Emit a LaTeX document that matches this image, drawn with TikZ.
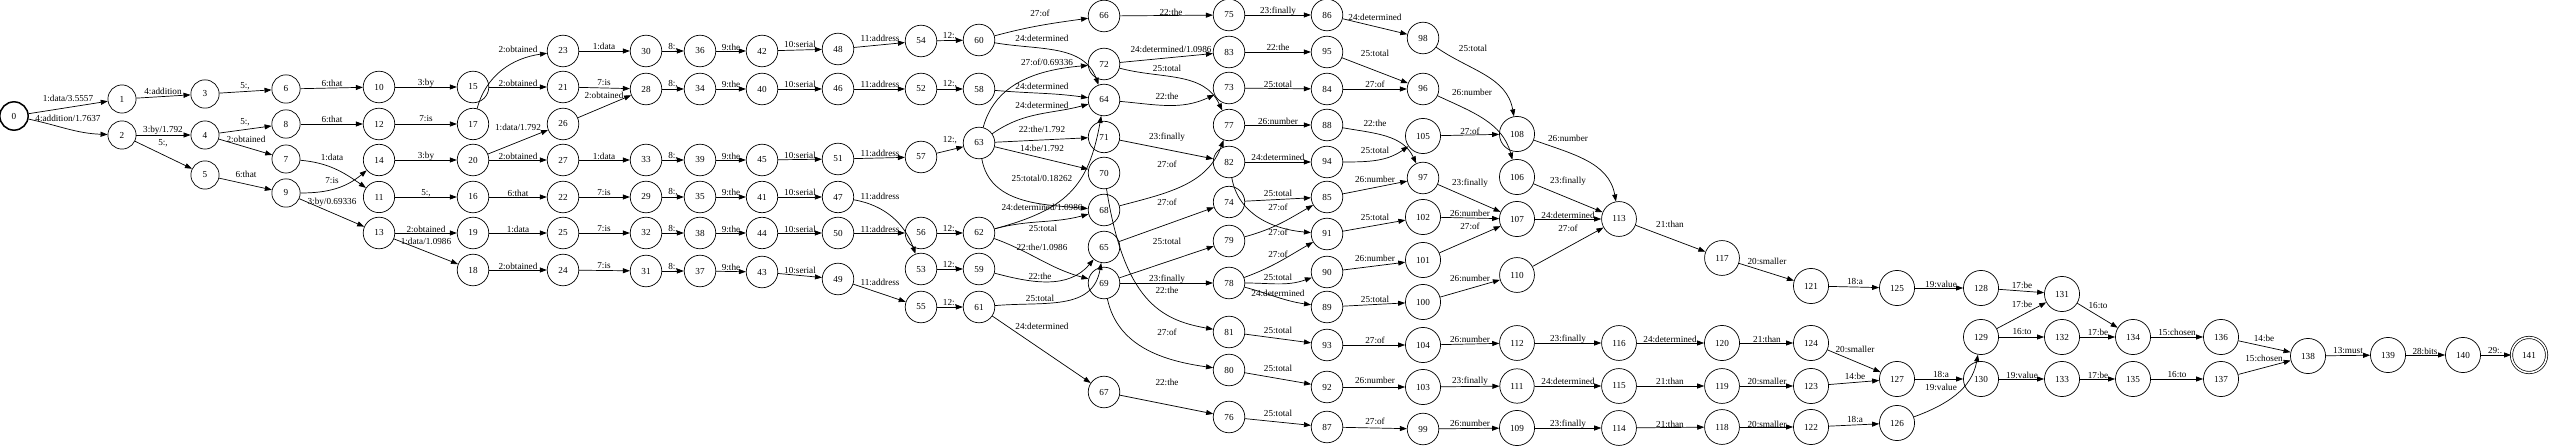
\documentclass[tikz,border=0pt]{standalone}
\usepackage{fontspec}
\setmainfont{Liberation Serif}
\usetikzlibrary{arrows.meta}
\newcommand{\fe}[5][--]{\draw[arr] (#2) #1 (#3) node[lbl] at (#4) {#5};}
\begin{document}
\begin{tikzpicture}[x=1pt,y=-1pt,
  st/.style={circle,draw,line width=0.7pt,minimum size=24pt,inner sep=7.3pt,font=\fontsize{9.2}{10}\selectfont},
  init/.style={st,line width=1.5pt},
  fin/.style={st,double,double distance=1.6pt},
  arr/.style={-{Triangle[length=7pt,width=5pt]},line width=0.7pt},
  lbl/.style={font=\fontsize{9.2}{10}\selectfont,inner sep=0pt}]
\useasboundingbox (0,0) rectangle (2550,446);
% nodes
\node[init] (n0) at (14,116) {0};
\node[st] (n1) at (122,99) {1};
\node[st] (n2) at (122,135) {2};
\node[st] (n3) at (205,94) {3};
\node[st] (n4) at (205,135) {4};
\node[st] (n5) at (205,175) {5};
\node[st] (n6) at (286,89) {6};
\node[st] (n8) at (286,124) {8};
\node[st] (n7) at (286,159) {7};
\node[st] (n9) at (286,193) {9};
\node[st] (n10) at (379,87) {10};
\node[st] (n12) at (379,124) {12};
\node[st] (n14) at (379,160) {14};
\node[st] (n11) at (379,197) {11};
\node[st] (n13) at (379,233) {13};
\node[st] (n15) at (473,87) {15};
\node[st] (n17) at (473,124) {17};
\node[st] (n20) at (473,160) {20};
\node[st] (n16) at (473,197) {16};
\node[st] (n19) at (473,233) {19};
\node[st] (n18) at (473,270) {18};
\node[st] (n23) at (563,51) {23};
\node[st] (n21) at (563,87) {21};
\node[st] (n26) at (563,124) {26};
\node[st] (n27) at (563,160) {27};
\node[st] (n22) at (563,197) {22};
\node[st] (n25) at (563,233) {25};
\node[st] (n24) at (563,270) {24};
\node[st] (n30) at (646,51) {30};
\node[st] (n28) at (646,89) {28};
\node[st] (n33) at (646,160) {33};
\node[st] (n29) at (646,197) {29};
\node[st] (n32) at (646,233) {32};
\node[st] (n31) at (646,271) {31};
\node[st] (n36) at (700,51) {36};
\node[st] (n34) at (700,89) {34};
\node[st] (n39) at (700,160) {39};
\node[st] (n35) at (700,197) {35};
\node[st] (n38) at (700,233) {38};
\node[st] (n37) at (700,271) {37};
\node[st] (n42) at (762,51) {42};
\node[st] (n40) at (762,89) {40};
\node[st] (n45) at (762,160) {45};
\node[st] (n41) at (762,197) {41};
\node[st] (n44) at (762,233) {44};
\node[st] (n43) at (762,272) {43};
\node[st] (n48) at (838,49) {48};
\node[st] (n46) at (838,89) {46};
\node[st] (n51) at (838,159) {51};
\node[st] (n47) at (838,197) {47};
\node[st] (n50) at (838,233) {50};
\node[st] (n49) at (838,279) {49};
\node[st] (n54) at (921,41) {54};
\node[st] (n52) at (921,89) {52};
\node[st] (n57) at (921,157) {57};
\node[st] (n56) at (921,233) {56};
\node[st] (n53) at (921,269) {53};
\node[st] (n55) at (921,307) {55};
\node[st] (n60) at (979,40) {60};
\node[st] (n58) at (979,89) {58};
\node[st] (n63) at (979,143) {63};
\node[st] (n62) at (979,233) {62};
\node[st] (n59) at (979,269) {59};
\node[st] (n61) at (979,307) {61};
\node[st] (n66) at (1104,16) {66};
\node[st] (n72) at (1104,64) {72};
\node[st] (n64) at (1104,100) {64};
\node[st] (n71) at (1104,137) {71};
\node[st] (n70) at (1104,173) {70};
\node[st] (n68) at (1104,210) {68};
\node[st] (n65) at (1104,247) {65};
\node[st] (n69) at (1104,283) {69};
\node[st] (n67) at (1104,392) {67};
\node[st] (n75) at (1229,15) {75};
\node[st] (n83) at (1229,52) {83};
\node[st] (n73) at (1229,88) {73};
\node[st] (n77) at (1229,125) {77};
\node[st] (n82) at (1229,162) {82};
\node[st] (n74) at (1229,202) {74};
\node[st] (n79) at (1229,241) {79};
\node[st] (n78) at (1229,283) {78};
\node[st] (n81) at (1229,332) {81};
\node[st] (n80) at (1229,370) {80};
\node[st] (n76) at (1229,417) {76};
\node[st] (n86) at (1327,15) {86};
\node[st] (n95) at (1327,52) {95};
\node[st] (n84) at (1327,89) {84};
\node[st] (n88) at (1327,125) {88};
\node[st] (n94) at (1327,162) {94};
\node[st] (n85) at (1327,197) {85};
\node[st] (n91) at (1327,234) {91};
\node[st] (n90) at (1327,272) {90};
\node[st] (n89) at (1327,307) {89};
\node[st] (n93) at (1327,345) {93};
\node[st] (n92) at (1327,387) {92};
\node[st] (n87) at (1327,427) {87};
\node[st] (n98) at (1423,38) {98};
\node[st] (n96) at (1423,89) {96};
\node[st] (n105) at (1423,136) {105};
\node[st] (n97) at (1423,178) {97};
\node[st] (n102) at (1423,217) {102};
\node[st] (n101) at (1423,260) {101};
\node[st] (n100) at (1423,302) {100};
\node[st] (n104) at (1423,345) {104};
\node[st] (n103) at (1423,387) {103};
\node[st] (n99) at (1423,429) {99};
\node[st] (n108) at (1517,134) {108};
\node[st] (n106) at (1517,177) {106};
\node[st] (n107) at (1517,219) {107};
\node[st] (n110) at (1517,275) {110};
\node[st] (n112) at (1517,343) {112};
\node[st] (n111) at (1517,386) {111};
\node[st] (n109) at (1517,428) {109};
\node[st] (n113) at (1619,219) {113};
\node[st] (n116) at (1619,343) {116};
\node[st] (n115) at (1619,386) {115};
\node[st] (n114) at (1619,428) {114};
\node[st] (n117) at (1722,258) {117};
\node[st] (n120) at (1722,343) {120};
\node[st] (n119) at (1722,386) {119};
\node[st] (n118) at (1722,427) {118};
\node[st] (n121) at (1811,286) {121};
\node[st] (n124) at (1811,343) {124};
\node[st] (n123) at (1811,386) {123};
\node[st] (n122) at (1811,427) {122};
\node[st] (n125) at (1897,288) {125};
\node[st] (n127) at (1897,379) {127};
\node[st] (n126) at (1897,423) {126};
\node[st] (n128) at (1981,288) {128};
\node[st] (n129) at (1981,337) {129};
\node[st] (n130) at (1981,379) {130};
\node[st] (n131) at (2062,294) {131};
\node[st] (n132) at (2062,337) {132};
\node[st] (n133) at (2062,379) {133};
\node[st] (n134) at (2133,337) {134};
\node[st] (n135) at (2133,379) {135};
\node[st] (n136) at (2221,337) {136};
\node[st] (n137) at (2221,379) {137};
\node[st] (n138) at (2308,356) {138};
\node[st] (n139) at (2388,355) {139};
\node[st] (n140) at (2463,355) {140};
\node[fin] (n141) at (2529,355) {141};
% edges
\fe{n0}{n1}{68,98}{1:data/3.5557}
\fe[{to[out=-12,in=178]}]{n0}{n2}{68,118}{4:addition/1.7637}
\fe{n1}{n3}{163,91}{4:addition}
\fe{n2}{n4}{163,130}{3:by/1.792}
\fe{n2}{n5}{163,143}{5:,}
\fe{n3}{n6}{245,86}{5:,}
\fe{n4}{n8}{245,122}{5:,}
\fe{n4}{n7}{246,139}{2:obtained}
\fe{n5}{n9}{246,174}{6:that}
\fe{n6}{n10}{332,83}{6:that}
\fe{n8}{n12}{332,119}{6:that}
\fe[{to[out=-5,in=145]}]{n7}{n11}{332,157}{1:data}
\fe[{to[out=0,in=-140]}]{n9}{n14}{332,181}{7:is}
\fe{n9}{n13}{332,202}{3:by/0.69336}
\fe{n10}{n15}{426,83}{3:by}
\fe{n12}{n17}{426,119}{7:is}
\fe{n14}{n20}{426,156}{3:by}
\fe{n11}{n16}{426,193}{5:,}
\fe{n13}{n19}{426,229}{2:obtained}
\fe{n13}{n18}{426,241}{1:data/1.0986}
\fe[{to[out=75,in=188]}]{n17}{n23}{518,49}{2:obtained}
\fe{n15}{n21}{518,83}{2:obtained}
\fe{n20}{n26}{518,127}{1:data/1.792}
\fe{n20}{n27}{518,156}{2:obtained}
\fe{n16}{n22}{518,193}{6:that}
\fe{n19}{n25}{518,229}{1:data}
\fe{n18}{n24}{518,266}{2:obtained}
\fe{n23}{n30}{604,46}{1:data}
\fe{n21}{n28}{604,83}{7:is}
\fe{n26}{n28}{604,95}{2:obtained}
\fe{n27}{n33}{604,156}{1:data}
\fe{n22}{n29}{604,193}{7:is}
\fe{n25}{n32}{604,229}{7:is}
\fe{n24}{n31}{604,266}{7:is}
\fe{n30}{n36}{673,47}{8:,}
\fe{n28}{n34}{673,84}{8:,}
\fe{n33}{n39}{673,156}{8:,}
\fe{n29}{n35}{673,192}{8:,}
\fe{n32}{n38}{673,229}{8:,}
\fe{n31}{n37}{673,267}{8:,}
\fe{n36}{n42}{731,47}{9:the}
\fe{n34}{n40}{731,84}{9:the}
\fe{n39}{n45}{731,156}{9:the}
\fe{n35}{n41}{731,192}{9:the}
\fe{n38}{n44}{731,229}{9:the}
\fe{n37}{n43}{731,267}{9:the}
\fe{n42}{n48}{800,44}{10:serial}
\fe{n40}{n46}{800,84}{10:serial}
\fe{n45}{n51}{800,155}{10:serial}
\fe{n41}{n47}{800,192}{10:serial}
\fe{n44}{n50}{800,229}{10:serial}
\fe{n43}{n49}{800,270}{10:serial}
\fe{n48}{n54}{880,38}{11:address}
\fe{n46}{n52}{880,84}{11:address}
\fe{n51}{n57}{880,153}{11:address}
\fe[{to[out=-10,in=110]}]{n47}{n53}{880,196}{11:address}
\fe{n50}{n56}{880,229}{11:address}
\fe{n49}{n55}{880,282}{11:address}
\fe{n54}{n60}{950,36}{12:,}
\fe{n52}{n58}{950,84}{12:,}
\fe{n57}{n63}{950,140}{12:,}
\fe{n56}{n62}{950,229}{12:,}
\fe{n53}{n59}{950,265}{12:,}
\fe{n55}{n61}{950,303}{12:,}
\fe[{to[out=15,in=188]}]{n60}{n66}{1040,13}{27:of}
\fe[{to[out=-10,in=110]}]{n60}{n64}{1042,38}{24:determined}
\fe[{to[out=75,in=185]}]{n63}{n72}{1047,62}{27:of/0.69336}
\fe[{to[out=-5,in=172]}]{n58}{n64}{1042,86}{24:determined}
\fe[{to[out=35,in=195]}]{n63}{n64}{1042,105}{24:determined}
\fe{n63}{n71}{1042,129}{22:the/1.792}
\fe{n63}{n70}{1042,148}{14:be/1.792}
\fe[{to[out=-80,in=175]}]{n63}{n68}{1042,178}{25:total/0.18262}
\fe[{to[out=15,in=-100,looseness=1.2]}]{n62}{n64}{1042,207}{24:determined/1.0986}
\fe[{to[out=15,in=195]}]{n62}{n68}{1043,228}{25:total}
\fe[{to[out=-20,in=165]}]{n62}{n69}{1042,247}{22:the/1.0986}
\fe[{to[out=-15,in=-130]}]{n59}{n65}{1040,276}{22:the}
\fe[{to[out=5,in=-100,looseness=1.1]}]{n61}{n65}{1040,298}{25:total}
\fe{n61}{n67}{1042,326}{24:determined}
\fe{n66}{n75}{1171,12}{22:the}
\fe{n72}{n83}{1171,49}{24:determined/1.0986}
\fe[{to[out=-15,in=115]}]{n72}{n77}{1167,68}{25:total}
\fe[{to[out=-5,in=-155]}]{n64}{n73}{1167,96}{22:the}
\fe{n71}{n82}{1167,137}{23:finally}
\fe[{to[out=15,in=-110]}]{n68}{n77}{1167,164}{27:of}
\fe{n65}{n74}{1167,202}{27:of}
\fe{n69}{n79}{1167,241}{25:total}
\fe{n69}{n78}{1167,279}{23:finally}
\fe[{.. controls (1124,300) and (1160,320) ..}]{n70}{n81}{1167,290}{22:the}
\fe[{to[out=-78,in=172]}]{n69}{n80}{1167,332}{27:of}
\fe{n67}{n76}{1167,382}{22:the}
\fe{n75}{n86}{1278,11}{23:finally}
\fe{n83}{n95}{1278,47}{22:the}
\fe{n73}{n84}{1278,84}{25:total}
\fe{n77}{n88}{1278,121}{26:number}
\fe{n82}{n94}{1278,157}{24:determined}
\fe{n74}{n85}{1278,193}{25:total}
\fe[{to[out=15,in=-150]}]{n79}{n85}{1278,207}{27:of}
\fe[{to[out=-80,in=175]}]{n82}{n91}{1278,232}{27:of}
\fe[{to[out=20,in=-150]}]{n78}{n91}{1278,254}{27:of}
\fe[{to[out=0,in=-160]}]{n78}{n90}{1278,277}{25:total}
\fe[{to[out=-15,in=172]}]{n78}{n89}{1278,293}{24:determined}
\fe{n81}{n93}{1278,330}{25:total}
\fe{n80}{n92}{1278,368}{25:total}
\fe{n76}{n87}{1278,413}{25:total}
\fe{n86}{n98}{1375,17}{24:determined}
\fe{n95}{n96}{1375,53}{25:total}
\fe{n84}{n96}{1375,84}{27:of}
\fe[{to[out=-10,in=115]}]{n88}{n97}{1375,123}{22:the}
\fe[{to[out=0,in=-145]}]{n94}{n105}{1375,150}{25:total}
\fe{n85}{n97}{1375,179}{26:number}
\fe{n91}{n102}{1375,217}{25:total}
\fe{n90}{n101}{1375,258}{26:number}
\fe{n89}{n100}{1375,299}{25:total}
\fe{n93}{n104}{1375,340}{27:of}
\fe{n92}{n103}{1375,380}{26:number}
\fe{n87}{n99}{1375,421}{27:of}
\fe[{to[out=-35,in=100]}]{n98}{n108}{1473,48}{25:total}
\fe[{to[out=-25,in=105]}]{n96}{n106}{1472,92}{26:number}
\fe{n105}{n108}{1470,131}{27:of}
\fe{n97}{n107}{1470,183}{23:finally}
\fe{n102}{n107}{1470,213}{26:number}
\fe{n101}{n107}{1470,226}{27:of}
\fe{n100}{n110}{1470,278}{26:number}
\fe{n104}{n112}{1470,339}{26:number}
\fe{n103}{n111}{1470,381}{23:finally}
\fe{n99}{n109}{1470,423}{26:number}
\fe[{to[out=-20,in=100]}]{n108}{n113}{1568,138}{26:number}
\fe{n106}{n113}{1568,181}{23:finally}
\fe{n107}{n113}{1568,215}{24:determined}
\fe{n110}{n113}{1568,228}{27:of}
\fe{n113}{n117}{1670,224}{21:than}
\fe{n112}{n116}{1568,339}{23:finally}
\fe{n116}{n120}{1670,339}{24:determined}
\fe{n111}{n115}{1568,381}{24:determined}
\fe{n115}{n119}{1670,381}{21:than}
\fe{n109}{n114}{1568,424}{23:finally}
\fe{n114}{n118}{1670,424}{21:than}
\fe{n117}{n121}{1767,261}{20:smaller}
\fe{n121}{n125}{1855,282}{18:a}
\fe{n120}{n124}{1767,339}{21:than}
\fe{n124}{n127}{1855,349}{20:smaller}
\fe{n119}{n123}{1767,381}{20:smaller}
\fe{n123}{n127}{1855,376}{14:be}
\fe{n118}{n122}{1767,424}{20:smaller}
\fe{n122}{n126}{1855,420}{18:a}
\fe{n125}{n128}{1941,284}{19:value}
\fe{n128}{n131}{2022,285}{17:be}
\fe{n129}{n131}{2022,304}{17:be}
\fe{n129}{n132}{2022,332}{16:to}
\fe{n127}{n130}{1941,375}{18:a}
\fe[{to[out=20,in=-100]}]{n126}{n129}{1941,387}{19:value}
\fe{n130}{n133}{2022,375}{19:value}
\fe{n131}{n134}{2098,306}{16:to}
\fe{n132}{n134}{2098,332}{17:be}
\fe{n133}{n135}{2098,375}{17:be}
\fe{n134}{n136}{2177,332}{15:chosen}
\fe{n136}{n138}{2264,338}{14:be}
\fe{n135}{n137}{2177,375}{16:to}
\fe{n137}{n138}{2264,358}{15:chosen}
\fe{n138}{n139}{2348,351}{13:must}
\fe{n139}{n140}{2425,351}{28:bits}
\fe{n140}{n141}{2495,351}{29:.}
\end{tikzpicture}
\end{document}
